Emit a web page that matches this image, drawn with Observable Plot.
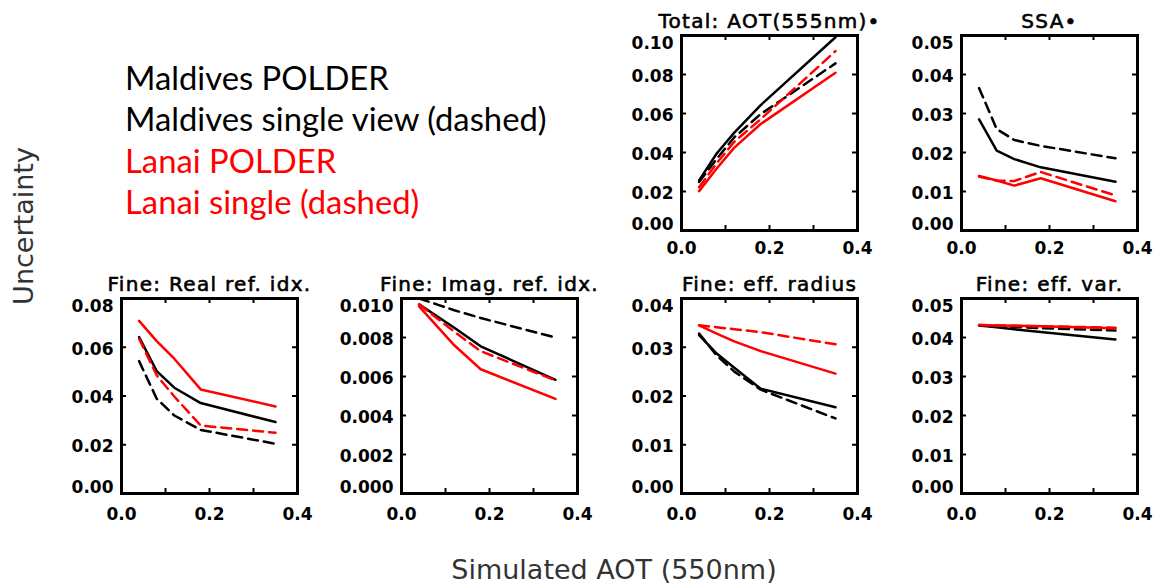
<!DOCTYPE html>
<html>
<head>
<meta charset="utf-8">
<script src="https://cdn.jsdelivr.net/npm/d3@7"></script>
<script src="https://cdn.jsdelivr.net/npm/@observablehq/plot@0.6"></script>
<style>
  html, body { margin: 0; padding: 0; background: #fff; }
  #root { position: relative; width: 1154px; height: 585px; overflow: hidden; background: #fff; }
  .panel { position: absolute; }
  .overlay { position: absolute; left: 0; top: 0; }
</style>
</head>
<body>
<div id="root"></div>
<script>
// ---------- data ----------
const xAOT = [0.04, 0.08, 0.12, 0.18, 0.35];
const seriesLabels = ["Maldives POLDER", "Maldives single view (dashed)", "Lanai POLDER", "Lanai single (dashed)"];
const seriesColors = ["#000000", "#000000", "#ff0000", "#ff0000"];
const seriesDashed = [false, true, false, true];
const xTickLabels = [0.0, 0.2, 0.4];
const xInnerTicks = [0.1, 0.2, 0.3];

const panelTitles = ["Total: AOT(555nm)\u2022", "SSA\u2022", "Fine: Real ref. idx.", "Fine: Imag. ref. idx.", "Fine: eff. radius", "Fine: eff. var."];

// Total AOT (555nm)
const aotMaldivesPolder = [0.0257, 0.0395, 0.0502, 0.0643, 0.0991];
const aotMaldivesSingle = [0.0249, 0.0367, 0.0478, 0.0597, 0.0857];
const aotLanaiPolder    = [0.0202, 0.0318, 0.0425, 0.0546, 0.0809];
const aotLanaiSingle    = [0.0222, 0.0345, 0.0455, 0.0571, 0.0920];
const aotTicks = [0.00, 0.02, 0.04, 0.06, 0.08, 0.10];

// SSA
const ssaMaldivesPolder = [0.0285, 0.0205, 0.0183, 0.0162, 0.0125];
const ssaMaldivesSingle = [0.0365, 0.0260, 0.0232, 0.0217, 0.0185];
const ssaLanaiPolder    = [0.0140, 0.0128, 0.0115, 0.0134, 0.0075];
const ssaLanaiSingle    = [0.0138, 0.0128, 0.0127, 0.0150, 0.0090];
const ssaTicks = [0.00, 0.01, 0.02, 0.03, 0.04, 0.05];

// Fine: real refractive index
const realMaldivesPolder = [0.0642, 0.0502, 0.0434, 0.0371, 0.0293];
const realMaldivesSingle = [0.0543, 0.0389, 0.0320, 0.0261, 0.0204];
const realLanaiPolder    = [0.0708, 0.0625, 0.0553, 0.0427, 0.0357];
const realLanaiSingle    = [0.0635, 0.0485, 0.0398, 0.0279, 0.0249];
const realTicks = [0.00, 0.02, 0.04, 0.06, 0.08];

// Fine: imaginary refractive index
const imagMaldivesPolder = [0.0097, 0.0091, 0.0085, 0.00755, 0.00583];
const imagMaldivesSingle = [0.0100, 0.0097, 0.0094, 0.0090, 0.0080];
const imagLanaiPolder    = [0.0096, 0.0086, 0.0076, 0.00637, 0.00485];
const imagLanaiSingle    = [0.0097, 0.0090, 0.0083, 0.0073, 0.0058];
const imagTicks = [0.000, 0.002, 0.004, 0.006, 0.008, 0.010];

// Fine: effective radius
const radMaldivesPolder = [0.0325, 0.0287, 0.0258, 0.0215, 0.0177];
const radMaldivesSingle = [0.0328, 0.0283, 0.0250, 0.0213, 0.0154];
const radLanaiPolder    = [0.0345, 0.0328, 0.0312, 0.0292, 0.0246];
const radLanaiSingle    = [0.0345, 0.0341, 0.0337, 0.0331, 0.0306];
const radTicks = [0.00, 0.01, 0.02, 0.03, 0.04];

// Fine: effective variance
const varMaldivesPolder = [0.0431, 0.0426, 0.0421, 0.0414, 0.0395];
const varMaldivesSingle = [0.0431, 0.0429, 0.0427, 0.0424, 0.0418];
const varLanaiPolder    = [0.0432, 0.0431, 0.0430, 0.0429, 0.0424];
const varLanaiSingle    = [0.0432, 0.0431, 0.0430, 0.0429, 0.0425];
const varTicks = [0.00, 0.01, 0.02, 0.03, 0.04, 0.05];

const yLabel = "Uncertainty";
const xLabel = "Simulated AOT (550nm)";

// ---------- layout ----------
const FW = 176, FH = 195;          // frame size
const ML = 62, MR = 16, MT = 36, MB = 38;
const panels = [
  {title: panelTitles[0], ticks: aotTicks,  fmt: ".2f", left: 681, top: 35,  xPad: 11, series: [aotMaldivesPolder, aotMaldivesSingle, aotLanaiPolder, aotLanaiSingle]},
  {title: panelTitles[1], ticks: ssaTicks,  fmt: ".2f", left: 961, top: 35,  xPad: 11, series: [ssaMaldivesPolder, ssaMaldivesSingle, ssaLanaiPolder, ssaLanaiSingle]},
  {title: panelTitles[2], ticks: realTicks, fmt: ".2f", left: 121, top: 298, xPad: 14, series: [realMaldivesPolder, realMaldivesSingle, realLanaiPolder, realLanaiSingle]},
  {title: panelTitles[3], ticks: imagTicks, fmt: ".3f", left: 401, top: 298, xPad: 14, series: [imagMaldivesPolder, imagMaldivesSingle, imagLanaiPolder, imagLanaiSingle]},
  {title: panelTitles[4], ticks: radTicks,  fmt: ".2f", left: 681, top: 298, xPad: 14, series: [radMaldivesPolder, radMaldivesSingle, radLanaiPolder, radLanaiSingle]},
  {title: panelTitles[5], ticks: varTicks,  fmt: ".2f", left: 961, top: 298, xPad: 14, series: [varMaldivesPolder, varMaldivesSingle, varLanaiPolder, varLanaiSingle]}
];

const root = document.getElementById("root");

for (const p of panels) {
  const lineMarks = p.series.map((vals, si) =>
    Plot.line(xAOT.map((x, i) => ({x, y: vals[i]})), {
      x: "x", y: "y",
      stroke: seriesColors[si],
      strokeWidth: 2.5,
      strokeDasharray: seriesDashed[si] ? "10,6" : null,
      strokeLinejoin: "round"
    })
  );
  const yInner = p.ticks.slice(1, -1);
  const yFirst = p.ticks.slice(0, 1);
  const yLast = p.ticks.slice(-1);
  const yFmt = d3.format(p.fmt);
  const chart = Plot.plot({
    width: ML + FW + MR,
    height: MT + FH + MB,
    marginLeft: ML, marginRight: MR, marginTop: MT, marginBottom: MB,
    x: {domain: [0, 0.4]},
    y: {domain: [p.ticks[0], p.ticks[p.ticks.length - 1]]},
    style: {fontFamily: "DejaVu Sans", fontSize: "17px", fontWeight: "bold", color: "#000", background: "transparent", overflow: "visible"},
    marks: [
      ...lineMarks,
      Plot.ruleX(xInnerTicks, {x: d => d, stroke: "#000", strokeWidth: 2, insetTop: FH - 5}),
      Plot.ruleX(xInnerTicks, {x: d => d, stroke: "#000", strokeWidth: 2, insetBottom: FH - 5}),
      Plot.ruleY(yInner, {y: d => d, stroke: "#000", strokeWidth: 2, insetRight: FW - 5}),
      Plot.ruleY(yInner, {y: d => d, stroke: "#000", strokeWidth: 2, insetLeft: FW - 5}),
      Plot.frame({stroke: "#000", strokeWidth: 3}),
      Plot.axisX({ticks: xTickLabels, tickSize: 0, tickPadding: p.xPad, tickFormat: d3.format(".1f"), label: null}),
      Plot.axisY({ticks: yInner, tickSize: 0, tickPadding: 8, dy: 2, tickFormat: yFmt, label: null}),
      Plot.axisY({ticks: yLast, tickSize: 0, tickPadding: 8, dy: 8, tickFormat: yFmt, label: null}),
      Plot.axisY({ticks: yFirst, tickSize: 0, tickPadding: 8, dy: -6, tickFormat: yFmt, label: null}),
      Plot.text([p.title], {frameAnchor: "top", lineAnchor: "bottom", dy: -8, fontSize: 20, fontWeight: "normal",
        fill: "#000", stroke: "#000", strokeWidth: 0.6, className: "ptitle"})
    ]
  });
  chart.classList.add("panel");
  chart.style.left = (p.left - ML) + "px";
  chart.style.top = (p.top - MT) + "px";
  root.appendChild(chart);
  d3.select(chart).selectAll(".ptitle text").style("letter-spacing", "1.3px");
}

// ---------- legend and axis titles ----------
const overlay = d3.select(root).append("svg")
  .attr("class", "overlay")
  .attr("width", 1154).attr("height", 585);

overlay.selectAll("text.legend")
  .data(seriesLabels)
  .join("text")
  .attr("class", "legend")
  .attr("x", 125)
  .attr("y", (d, i) => 90 + i * 41.4)
  .attr("fill", (d, i) => seriesColors[i])
  .style("font-family", "Lato, 'Open Sans', sans-serif")
  .style("font-size", "32.8px")
  .text(d => d);

overlay.append("text")
  .attr("transform", "translate(33,226) rotate(-90)")
  .attr("text-anchor", "middle")
  .attr("fill", "#333")
  .style("font-family", "'DejaVu Sans'")
  .style("font-size", "27px")
  .text(yLabel);

overlay.append("text")
  .attr("x", 614).attr("y", 579)
  .attr("text-anchor", "middle")
  .attr("fill", "#333")
  .style("font-family", "'DejaVu Sans'")
  .style("font-size", "27px")
  .text(xLabel);
</script>
</body>
</html>
